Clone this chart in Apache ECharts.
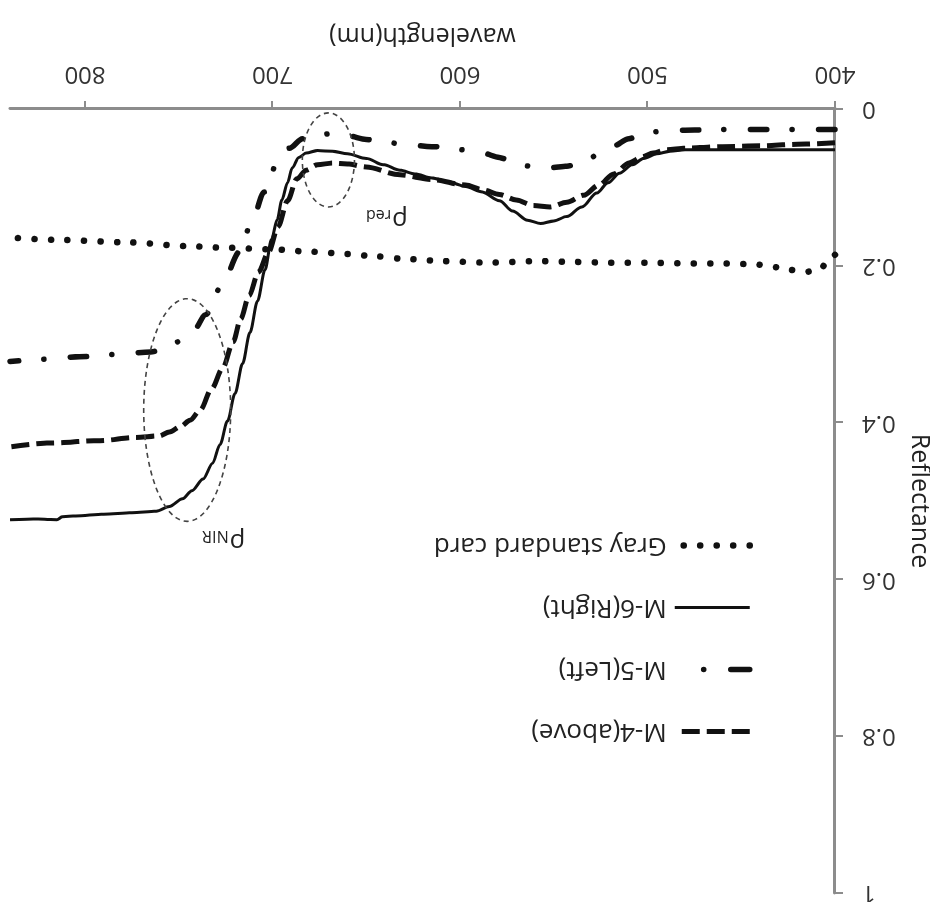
<!DOCTYPE html>
<html>
<head>
<meta charset="utf-8">
<script src="https://cdn.jsdelivr.net/npm/echarts@6/dist/echarts.min.js"></script>
<style>
  html, body { margin: 0; padding: 0; background: #fff; }
  #chart { width: 930px; height: 902px; transform: rotate(180deg); }
</style>
</head>
<body>
<div id="chart"></div>
<script>
// --- Data: [wavelength nm, reflectance] ---
const grayCard = [
    [400, 0.186], [402, 0.188], [408, 0.204], [416, 0.208], [425, 0.205], [434, 0.201],
    [443, 0.198], [460, 0.197], [480, 0.197], [500, 0.196], [520, 0.196], [540, 0.195],
    [558, 0.194], [585, 0.196], [610, 0.194], [630, 0.191], [645, 0.188], [660, 0.185],
    [680, 0.182], [700, 0.179], [725, 0.177], [745, 0.175], [778, 0.170], [814, 0.167],
    [840, 0.164]
];
const m6Right = [
    [400, 0.052], [420, 0.052], [440, 0.052], [460, 0.052], [480, 0.052], [488, 0.054],
    [495, 0.057], [502, 0.063], [508, 0.071], [515, 0.082], [521, 0.094], [527, 0.107],
    [535, 0.125], [543, 0.137], [550, 0.143], [557, 0.146], [564, 0.142], [572, 0.130],
    [579, 0.117], [588, 0.106], [597, 0.099], [606, 0.093], [615, 0.088], [624, 0.083],
    [632, 0.078], [641, 0.071], [650, 0.063], [660, 0.057], [668, 0.054], [676, 0.053],
    [682, 0.056], [686, 0.062], [689.5, 0.075], [692, 0.094], [695, 0.116], [697.5, 0.141],
    [700.5, 0.166], [704, 0.205], [708, 0.245], [712, 0.285], [716, 0.325], [720, 0.363],
    [724, 0.398], [728, 0.428], [732, 0.452], [737, 0.472], [743, 0.487], [748, 0.497],
    [755, 0.507], [762, 0.513], [775, 0.515], [790, 0.517], [805, 0.519], [812, 0.520],
    [815, 0.524], [825, 0.523], [840, 0.524]
];
const m5Left = [
    [400, 0.026], [420, 0.026], [440, 0.026], [460, 0.026], [480, 0.027], [495, 0.029],
    [503, 0.032], [510, 0.038], [518, 0.047], [526, 0.058], [534, 0.067], [543, 0.073],
    [552, 0.075], [561, 0.074], [570, 0.069], [579, 0.062], [588, 0.056], [597, 0.052],
    [615, 0.048], [632, 0.044], [650, 0.039], [660, 0.034], [667, 0.031], [676, 0.033],
    [684, 0.038], [691, 0.050], [697.5, 0.069], [704.5, 0.106], [711, 0.143], [717.5, 0.182],
    [727.5, 0.227], [735.5, 0.262], [742, 0.282], [749, 0.296], [757, 0.305], [765, 0.310],
    [783, 0.313], [803, 0.316], [820, 0.319], [840, 0.322]
];
const m4Above = [
    [400, 0.043], [420, 0.045], [440, 0.047], [460, 0.048], [480, 0.050], [490, 0.052],
    [497, 0.056], [503, 0.061], [510, 0.069], [518, 0.083], [526, 0.097], [534, 0.110],
    [543, 0.119], [552, 0.125], [561, 0.123], [570, 0.116], [579, 0.109], [588, 0.103],
    [597, 0.097], [615, 0.090], [632, 0.084], [650, 0.074], [660, 0.070], [668, 0.069],
    [676, 0.071], [682, 0.078], [687, 0.089], [692, 0.117], [697, 0.150], [702, 0.182],
    [707.5, 0.208], [712.5, 0.238], [717, 0.268], [721, 0.297], [726.5, 0.330], [732.5, 0.357],
    [738.5, 0.384], [744, 0.397], [749, 0.405], [755, 0.412], [760.5, 0.417], [773, 0.419],
    [792, 0.423], [819, 0.426], [840, 0.431]
];
const xTicks = [400, 500, 600, 700, 800];

// annotation ellipses: center + half axes in data units
const ellipses = [
    { c: [670.2, 0.065], rx: 13.9, ry: 0.060 },
    { c: [745.5, 0.384], rx: 23.2, ry: 0.142 }
];
const notes = [
    { at: [639, 0.141], main: 'ρ', sub: 'red' },
    { at: [726, 0.551], main: 'ρ', sub: 'NIR' }
];

const FONT = 'Open Sans';
const AXIS_GRAY = '#8c8c8c';
const INK = '#111';

const chart = echarts.init(document.getElementById('chart'));

const option = {
    animation: false,
    backgroundColor: '#fff',
    grid: { left: 95, right: 10, top: 9, bottom: 109, containLabel: false, outerBoundsMode: 'none' },
    legend: {
        orient: 'vertical',
        left: 177,
        top: 157,
        padding: 0,
        itemWidth: 75,
        itemHeight: 14,
        itemGap: 35,
        itemStyle: { opacity: 0 },
        lineStyle: { width: 'inherit' },
        textStyle: { fontFamily: FONT, fontSize: 26, color: '#222', lineHeight: 27, padding: [0, 0, 0, 3] },
        data: [
            'M-4(above)',
            { name: 'M-5(Left)', lineStyle: { width: 5.5, type: [19, 27, 0.1, 40], cap: 'round' } },
            'M-6(Right)',
            'Gray standard card'
        ]
    },
    xAxis: {
        type: 'value',
        min: 400,
        max: 840,
        interval: 100,
        name: 'wavelength(nm)',
        nameLocation: 'middle',
        nameGap: 61,
        nameTextStyle: { fontFamily: FONT, fontSize: 25, color: '#222' },
        axisLine: { lineStyle: { color: AXIS_GRAY, width: 3 } },
        axisTick: { length: 8, customValues: xTicks, lineStyle: { color: AXIS_GRAY, width: 2 } },
        axisLabel: { customValues: xTicks, margin: 23, fontFamily: FONT, fontSize: 24, color: '#333' },
        splitLine: { show: false }
    },
    yAxis: {
        type: 'value',
        min: 0,
        max: 1,
        interval: 0.2,
        name: 'Reflectance',
        nameLocation: 'middle',
        nameGap: 69,
        nameTextStyle: { fontFamily: FONT, fontSize: 25, color: '#222' },
        axisLine: { show: true, lineStyle: { color: AXIS_GRAY, width: 3 } },
        axisTick: { show: true, length: 8, lineStyle: { color: AXIS_GRAY, width: 2 } },
        axisLabel: { margin: 27, fontFamily: FONT, fontSize: 24, color: '#333' },
        splitLine: { show: false }
    },
    series: [
        {
            name: 'Gray standard card', type: 'line', data: grayCard,
            symbol: 'none', smooth: 0.3, smoothMonotone: 'x',
            lineStyle: { color: INK, width: 6.5, type: [0.1, 16.4], cap: 'round' }
        },
        {
            name: 'M-6(Right)', type: 'line', data: m6Right,
            symbol: 'none', smooth: 0.3, smoothMonotone: 'x',
            lineStyle: { color: INK, width: 3 }
        },
        {
            name: 'M-5(Left)', type: 'line', data: m5Left,
            symbol: 'none', smooth: 0.3, smoothMonotone: 'x',
            lineStyle: { color: INK, width: 5.5, type: [16.5, 26.5, 0.1, 25], cap: 'round' }
        },
        {
            name: 'M-4(above)', type: 'line', data: m4Above,
            symbol: 'none', smooth: 0.3, smoothMonotone: 'x',
            lineStyle: { color: INK, width: 5, type: [18, 7] }
        }
    ]
};

chart.setOption(option);

// --- annotations placed through the axes ---
function px(p) {
    return chart.convertToPixel({ gridIndex: 0 }, p);
}

const graphics = [];
ellipses.forEach(e => {
    const c = px(e.c);
    const edge = px([e.c[0] + e.rx, e.c[1] + e.ry]);
    graphics.push({
        type: 'ellipse',
        shape: { cx: c[0], cy: c[1], rx: Math.abs(edge[0] - c[0]), ry: Math.abs(edge[1] - c[1]) },
        style: { fill: 'none', stroke: '#444', lineWidth: 1.6, lineDash: [5, 4] },
        z: 10
    });
});
notes.forEach(n => {
    const p = px(n.at);
    graphics.push({
        type: 'text',
        x: p[0],
        y: p[1],
        style: {
            text: '{a|' + n.main + '}{b|' + n.sub + '}',
            align: 'center',
            verticalAlign: 'middle',
            rich: {
                a: { fontFamily: FONT, fontSize: 26, fill: '#222', verticalAlign: 'bottom', lineHeight: 26 },
                b: { fontFamily: FONT, fontSize: 16, fill: '#222', verticalAlign: 'bottom', lineHeight: 16, padding: [0, 0, 0, 1] }
            }
        },
        z: 10
    });
});
chart.setOption({ graphic: graphics });
</script>
</body>
</html>
